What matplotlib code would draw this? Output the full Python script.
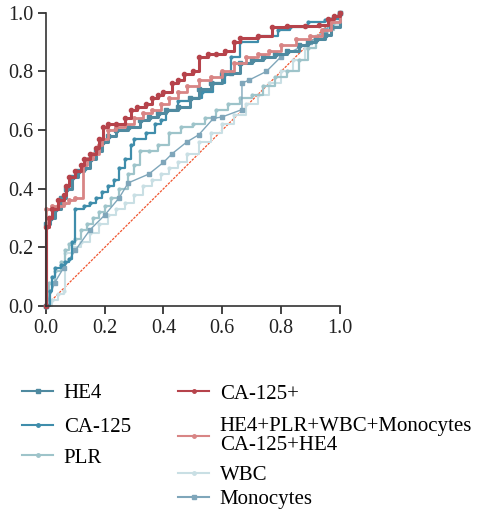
import matplotlib
matplotlib.use("Agg")
import matplotlib.pyplot as plt

plt.rcParams['font.family'] = ['Liberation Serif', 'DejaVu Serif']

# ROC curve points (fpr, tpr)
ca125p_fpr = [0, 0, 0.01, 0.02, 0.04, 0.06, 0.07, 0.08, 0.10, 0.12, 0.13, 0.15, 0.17, 0.18, 0.195, 0.21, 0.24,
              0.27, 0.29, 0.31, 0.34, 0.36, 0.38, 0.40, 0.43, 0.45, 0.47, 0.50, 0.52, 0.55, 0.58, 0.61, 0.64,
              0.66, 0.72, 0.77, 0.82, 0.88, 0.93, 0.96, 0.98, 1.0]
ca125p_tpr = [0, 0.27, 0.30, 0.33, 0.36, 0.38, 0.41, 0.44, 0.46, 0.48, 0.50, 0.52, 0.54, 0.57, 0.61, 0.62, 0.62,
              0.64, 0.67, 0.68, 0.69, 0.71, 0.72, 0.73, 0.76, 0.77, 0.79, 0.80, 0.85, 0.86, 0.86, 0.87, 0.90,
              0.915, 0.92, 0.95, 0.955, 0.955, 0.96, 0.98, 0.99, 1.0]

combo_fpr = [0, 0, 0.02, 0.04, 0.06, 0.08, 0.10, 0.125, 0.14, 0.16, 0.18, 0.19, 0.21, 0.24, 0.27, 0.30, 0.33,
             0.36, 0.39, 0.42, 0.45, 0.48, 0.52, 0.56, 0.60, 0.64, 0.68, 0.72, 0.76, 0.80, 0.85, 0.90, 0.94,
             0.97, 1.0]
combo_tpr = [0, 0.33, 0.34, 0.34, 0.35, 0.36, 0.37, 0.48, 0.50, 0.52, 0.55, 0.57, 0.60, 0.61, 0.62, 0.64, 0.66,
             0.67, 0.69, 0.71, 0.73, 0.75, 0.77, 0.78, 0.80, 0.83, 0.85, 0.86, 0.87, 0.89, 0.91, 0.92, 0.94,
             0.97, 1.0]

he4_fpr = [0, 0, 0.015, 0.03, 0.05, 0.07, 0.09, 0.11, 0.13, 0.15, 0.17, 0.19, 0.21, 0.24, 0.28, 0.32, 0.35,
           0.38, 0.41, 0.45, 0.49, 0.52, 0.56, 0.60, 0.63, 0.66, 0.70, 0.74, 0.78, 0.82, 0.86, 0.89, 0.92,
           0.95, 0.97, 1.0]
he4_tpr = [0, 0.28, 0.30, 0.33, 0.37, 0.40, 0.44, 0.46, 0.47, 0.50, 0.53, 0.56, 0.58, 0.60, 0.61, 0.635, 0.645,
           0.66, 0.67, 0.68, 0.71, 0.74, 0.76, 0.79, 0.795, 0.83, 0.84, 0.85, 0.86, 0.87, 0.89, 0.90, 0.91,
           0.925, 0.95, 1.0]

ca125_fpr = [0, 0.015, 0.02, 0.03, 0.05, 0.065, 0.08, 0.09, 0.10, 0.13, 0.15, 0.17, 0.19, 0.21, 0.23, 0.25,
             0.27, 0.29, 0.30, 0.34, 0.37, 0.39, 0.41, 0.45, 0.49, 0.53, 0.57, 0.61, 0.63, 0.66, 0.72, 0.79,
             0.83, 0.89, 0.95, 0.97, 1.0]
ca125_tpr = [0, 0.05, 0.10, 0.13, 0.14, 0.15, 0.16, 0.22, 0.33, 0.34, 0.35, 0.37, 0.39, 0.41, 0.43, 0.47,
             0.50, 0.55, 0.57, 0.59, 0.62, 0.635, 0.67, 0.70, 0.71, 0.73, 0.76, 0.79, 0.85, 0.90, 0.92, 0.94,
             0.95, 0.97, 0.975, 0.98, 1.0]

plr_fpr = [0, 0.01, 0.03, 0.05, 0.065, 0.08, 0.10, 0.12, 0.14, 0.16, 0.18, 0.20, 0.22, 0.25, 0.28, 0.30, 0.32,
           0.35, 0.38, 0.42, 0.46, 0.50, 0.54, 0.58, 0.62, 0.66, 0.70, 0.74, 0.78, 0.82, 0.86, 0.89, 0.92,
           0.95, 0.98, 1.0]
plr_tpr = [0, 0.08, 0.12, 0.15, 0.19, 0.21, 0.23, 0.26, 0.28, 0.30, 0.32, 0.34, 0.37, 0.40, 0.45, 0.48, 0.53,
           0.53, 0.55, 0.59, 0.61, 0.62, 0.64, 0.67, 0.69, 0.71, 0.72, 0.75, 0.78, 0.80, 0.84, 0.88, 0.91,
           0.94, 0.97, 1.0]

wbc_fpr = [0, 0.02, 0.04, 0.06, 0.065, 0.09, 0.12, 0.15, 0.18, 0.21, 0.24, 0.27, 0.30, 0.33, 0.36, 0.39, 0.42,
           0.45, 0.48, 0.52, 0.56, 0.60, 0.64, 0.68, 0.72, 0.76, 0.80, 0.84, 0.88, 0.92, 0.96, 1.0]
wbc_tpr = [0, 0.02, 0.04, 0.05, 0.18, 0.20, 0.22, 0.25, 0.28, 0.31, 0.33, 0.35, 0.38, 0.41, 0.43, 0.45, 0.47,
           0.49, 0.52, 0.56, 0.59, 0.62, 0.65, 0.69, 0.72, 0.76, 0.80, 0.84, 0.88, 0.92, 0.96, 1.0]

mono_fpr = [0, 0.03, 0.06, 0.10, 0.15, 0.20, 0.25, 0.28, 0.35, 0.40, 0.43, 0.48, 0.52, 0.57, 0.60, 0.667, 0.667,
            0.69, 0.75, 0.80, 0.90, 0.95, 1.0]
mono_tpr = [0, 0.08, 0.13, 0.19, 0.26, 0.31, 0.37, 0.42, 0.45, 0.49, 0.52, 0.56, 0.584, 0.64, 0.645, 0.67, 0.76,
            0.77, 0.80, 0.85, 0.90, 0.94, 1.0]

tick_vals = [0, 0.2, 0.4, 0.6, 0.8, 1.0]
tick_labels = ['0.0', '0.2', '0.4', '0.6', '0.8', '1.0']


def main():
    fig = plt.figure(figsize=(4.78, 5.11), dpi=100)
    ax = fig.add_axes([0.096, 0.401, 0.615, 0.574])

    # 參考線
    ax.plot([0, 1], [0, 1], color='#f0552f', lw=0.9, ls=(0, (2, 1)), zorder=1)

    h_wbc, = ax.plot(wbc_fpr, wbc_tpr, drawstyle='steps-post', color='#c9dfe4', lw=1.5,
                     marker='o', ms=2, label='WBC')
    h_plr, = ax.plot(plr_fpr, plr_tpr, drawstyle='steps-post', color='#9ec4ca', lw=1.6,
                     marker='o', ms=2, label='PLR')
    h_mono, = ax.plot(mono_fpr, mono_tpr, color='#7fa6ba', lw=1.0,
                      marker='s', ms=2.5, label='Monocytes')
    h_ca125, = ax.plot(ca125_fpr, ca125_tpr, drawstyle='steps-post', color='#3f8dab', lw=1.6,
                       marker='o', ms=2, label='CA-125')
    h_he4, = ax.plot(he4_fpr, he4_tpr, drawstyle='steps-post', color='#4f8aa0', lw=2.2,
                     marker='s', ms=3, label='HE4')
    h_combo, = ax.plot(combo_fpr, combo_tpr, drawstyle='steps-post', color='#d88585', lw=2.0,
                       marker='o', ms=2.5, label='HE4+PLR+WBC+Monocytes\nCA-125+HE4')
    h_ca125p, = ax.plot(ca125p_fpr, ca125p_tpr, drawstyle='steps-post', color='#b6434b', lw=2.2,
                        marker='o', ms=3, label='CA-125+')

    for ln in ax.lines:
        ln.set_clip_on(False)

    ax.set_xlim(0, 1)
    ax.set_ylim(0, 1)
    ax.set_xticks(tick_vals)
    ax.set_yticks(tick_vals)
    ax.set_xticklabels(tick_labels)
    ax.set_yticklabels(tick_labels)
    ax.spines['top'].set_visible(False)
    ax.spines['right'].set_visible(False)
    for s in ['left', 'bottom']:
        ax.spines[s].set_linewidth(1.2)
        ax.spines[s].set_color('#333333')
    ax.tick_params(direction='out', length=6, width=1.2, labelsize=14.5, colors='#222222', pad=3)

    # 圖例：每一項各自擺放 (x, y 為圖形像素位置)
    W, H = 478, 511
    entries = [
        (h_he4, 22, 393),
        (h_ca125, 22, 427),
        (h_plr, 22, 458),
        (h_ca125p, 178, 394),
        (h_combo, 178, 436),
        (h_wbc, 178, 475),
        (h_mono, 178, 499),
    ]
    for h, px, py in entries:
        leg = fig.legend(handles=[h], loc='center left', bbox_to_anchor=(px / W, 1 - py / H),
                         frameon=False, fontsize=15, handlelength=1.5, handletextpad=0.5,
                         borderpad=0, borderaxespad=0)
        for t in leg.get_texts():
            t.set_linespacing(0.95)
        for lh in leg.legend_handles:
            lh.set_linewidth(1.5)
            lh.set_markersize(2.5)

    fig.savefig('out.png', dpi=100)


if __name__ == '__main__':
    main()
